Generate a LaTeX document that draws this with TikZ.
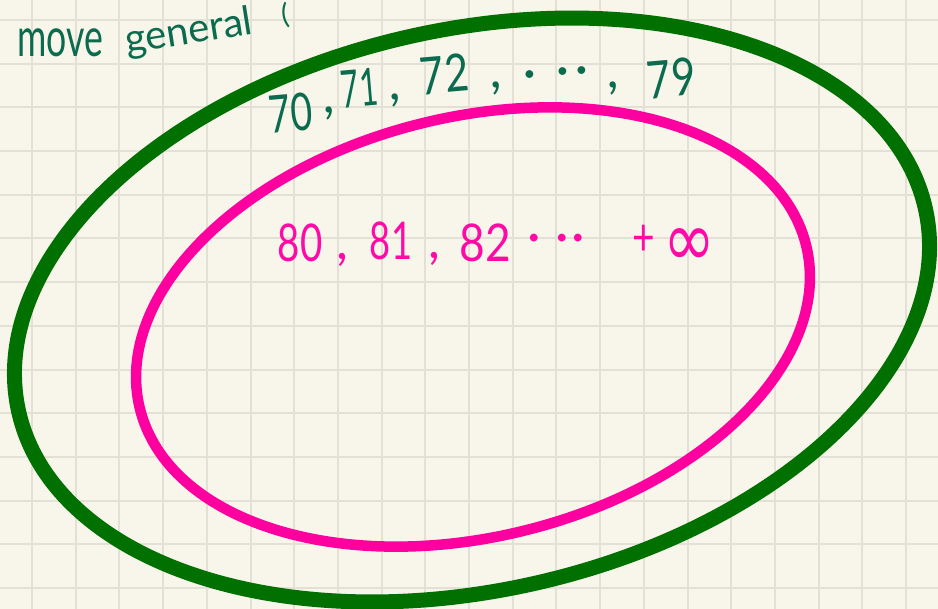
\documentclass[tikz,border=0pt]{standalone}
\usepackage{fontspec}
\setmainfont{Lato}
\newfontfamily\symbolfont{DejaVu Sans}
\definecolor{paper}{RGB}{248,246,234}
\definecolor{gridc}{RGB}{227,225,213}
\definecolor{ringgreen}{RGB}{0,112,0}
\definecolor{ringpink}{RGB}{255,0,160}
\definecolor{inkteal}{RGB}{10,107,78}
\definecolor{inkpink}{RGB}{255,10,166}
\tikzset{
  gridline/.style={draw=gridc, line width=2pt},
  greenring/.style={draw=ringgreen, line width=15pt},
  pinkring/.style={draw=ringpink, line width=10.5pt},
  tealword/.style={text=inkteal, inner sep=0pt, anchor=base west},
  tealnum/.style={text=inkteal, inner sep=0pt, anchor=base, rotate=5, font=\fontsize{52}{56}\selectfont},
  pinknum/.style={text=inkpink, inner sep=0pt, anchor=base, font=\fontsize{52}{56}\selectfont},
}
\begin{document}
\begin{tikzpicture}[x=1pt,y=-1pt]
\fill[paper] (0,0) rectangle (938,609);
\useasboundingbox (0,0) rectangle (938,609);
\clip (0,0) rectangle (938,609);
\foreach \i in {0,...,20} \draw[gridline] ({32+43.7*\i},0) -- ({32+43.7*\i},609);
\foreach \j in {0,...,13} \draw[gridline] (0,{20+43.7*\j}) -- (938,{20+43.7*\j});
\draw[greenring, rotate around={12.6:(472,310)}] (472,310) ellipse [x radius=464.6pt, y radius=280.5pt];
\draw[pinkring, rotate around={13.7:(473,327)}] (473,327) ellipse [x radius=343pt, y radius=210pt];
% heading
\node[tealword, font=\fontsize{54}{58}\selectfont] (move) at (17,57) {\scalebox{0.66}[1]{move}};
\node[tealword, font=\fontsize{40}{44}\selectfont, rotate=9] (general) at (127,54) {general};
\node[text=inkteal, inner sep=0pt, font=\fontsize{28}{30}\selectfont, rotate=8] (paren) at (285,15) {(};
% green numbers
\node[tealnum] (g70) at (292,132) {\scalebox{0.72}[1]{70}};
\node[tealnum] (gc1) at (329,113) {,};
\node[tealnum] (g71) at (361,107) {\scalebox{0.6}[1]{71}};
\node[tealnum] (gc2) at (395,100) {,};
\node[tealnum] (g72) at (446,93) {\scalebox{0.8}[1]{72}};
\node[tealnum] (gc3) at (496,88) {,};
\node[tealnum] (gdots) at (557,88) {·\hspace{20pt}·\hspace{5pt}·};
\node[tealnum] (gc4) at (613,88) {,};
\node[tealnum] (g79) at (673,97) {\scalebox{0.8}[1]{79}};
% pink numbers
\node[pinknum] (p80) at (300,262) {\scalebox{0.74}[1]{80}};
\node[pinknum] (pc1) at (342,260) {,};
\node[pinknum] (p81) at (391,260) {\scalebox{0.7}[1]{81}};
\node[pinknum] (pc2) at (434,259) {,};
\node[pinknum] (p82) at (485,262) {\scalebox{0.85}[1]{82}};
\node[pinknum] (pdots) at (556,254) {·\hspace{15pt}·\hspace{2pt}·};
\node[pinknum] (pplus) at (644,256) {\scalebox{0.75}[1]{+}};
\node[pinknum] (pinf) at (689,267) {\symbolfont\scalebox{1.2}[1.5]{∞}};
\end{tikzpicture}
\end{document}
